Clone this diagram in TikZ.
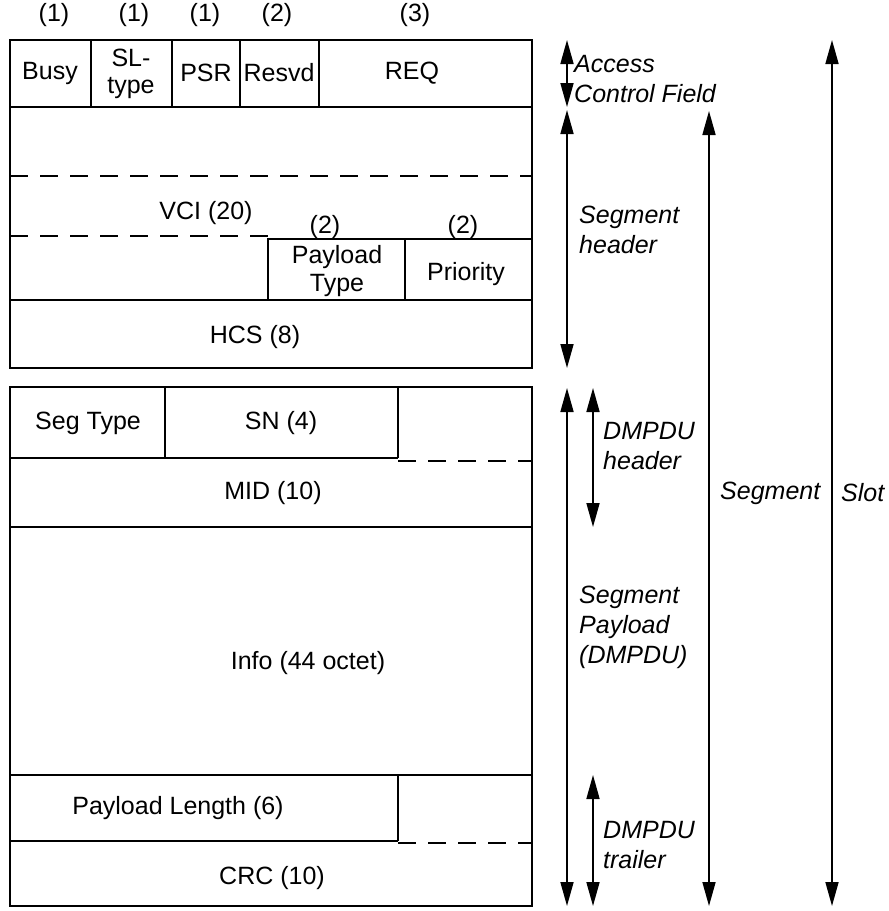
\documentclass[tikz,border=0pt]{standalone}
\usepackage{fontspec}
\setmainfont{Liberation Sans}
\usetikzlibrary{arrows.meta}
\begin{document}
\begin{tikzpicture}[x=1pt,y=-1pt,
  outer/.style={line width=2.8pt},
  field/.style={line width=1.7pt},
  dsh/.style={line width=1.7pt, dash pattern=on 18pt off 12pt},
  lbl/.style={font=\fontsize{25}{27.5}\selectfont, inner sep=0pt, align=center},
  ilbl/.style={font=\fontsize{25}{30}\selectfont\itshape, inner sep=0pt, align=left},
  dim/.style={line width=1.7pt, {Triangle[length=24pt,width=13pt]}-{Triangle[length=24pt,width=13pt]}},
]
\useasboundingbox (0,0) rectangle (889,911);

% ---------- top box (ACF + segment header)
\draw[outer] (10,40) rectangle (532,368);
\draw[field] (10,107) -- (532,107);
\draw[field] (91,40) -- (91,107);
\draw[field] (172,40) -- (172,107);
\draw[field] (240,40) -- (240,107);
\draw[field] (319,40) -- (319,107);
\draw[dsh] (10,176) -- (532,176);
\draw[dsh] (10,236) -- (268,236);
\draw[field] (268,300) -- (268,239) -- (532,239);
\draw[field] (405,239) -- (405,300);
\draw[field] (10,300) -- (532,300);

\node[lbl] (n1) at (54,15) {(1)};
\node[lbl] (n2) at (134,15) {(1)};
\node[lbl] (n3) at (205,15) {(1)};
\node[lbl] (n4) at (277,15) {(2)};
\node[lbl] (n5) at (415,15) {(3)};

\node[lbl] (busy) at (50,73) {Busy};
\node[lbl] (sl) at (131,74) {SL-\\type};
\node[lbl] (psr) at (206,73) {PSR};
\node[lbl] (resvd) at (279,73) {Resvd};
\node[lbl] (req) at (412,73) {REQ};

\node[lbl] (vci) at (206,213) {VCI (20)};
\node[lbl] (n6) at (325,227) {(2)};
\node[lbl] (n7) at (463,227) {(2)};
\node[lbl] (pt) at (337,271) {Payload\\Type};
\node[lbl] (prio) at (466,274) {Priority};
\node[lbl] (hcs) at (255,337) {HCS (8)};

% ---------- bottom box (segment payload)
\draw[outer] (10,387) rectangle (532,906);
\draw[field] (10,458) -- (398,458);
\draw[field] (165,387) -- (165,458);
\draw[field] (398,387) -- (398,458);
\draw[dsh] (398,461) -- (532,461);
\draw[field] (10,527) -- (532,527);
\draw[field] (10,775) -- (532,775);
\draw[field] (398,775) -- (398,841);
\draw[field] (10,841) -- (398,841);
\draw[dsh] (398,843) -- (532,843);

\node[lbl] (segtype) at (88,423) {Seg Type};
\node[lbl] (sn) at (281,423) {SN (4)};
\node[lbl] (mid) at (273,493) {MID (10)};
\node[lbl] (info) at (308,663) {Info (44 octet)};
\node[lbl] (plen) at (178,808) {Payload Length (6)};
\node[lbl] (crc) at (272,878) {CRC (10)};

% ---------- dimension arrows
\coordinate (acfT) at (567,40);
\coordinate (acfB) at (567,107);
\coordinate (shT) at (567,110);
\coordinate (shB) at (567,368);
\coordinate (spT) at (567,388);
\coordinate (spB) at (567,906);
\coordinate (dhT) at (593,388);
\coordinate (dhB) at (593,527);
\coordinate (dtT) at (593,775);
\coordinate (dtB) at (593,906);
\coordinate (sgT) at (709,111);
\coordinate (sgB) at (709,906);
\coordinate (slT) at (832,40);
\coordinate (slB) at (832,906);

\draw[dim] (acfT) -- (acfB);
\draw[dim] (shT) -- (shB);
\draw[dim] (spT) -- (spB);
\draw[dim] (dhT) -- (dhB);
\draw[dim] (dtT) -- (dtB);
\draw[dim] (sgT) -- (sgB);
\draw[dim] (slT) -- (slB);

\node[ilbl, anchor=west] (acf) at (574,79) {Access\\Control Field};
\node[ilbl, anchor=west] (sh) at (579,230) {Segment\\header};
\node[ilbl, anchor=west] (dh) at (603,446) {DMPDU\\header};
\node[ilbl, anchor=west] (sp) at (579,627) {Segment\\Payload\\(DMPDU)};
\node[ilbl, anchor=west] (dt) at (603,845) {DMPDU\\trailer};
\node[ilbl, anchor=west] (seg) at (720,493) {Segment};
\node[ilbl, anchor=west] (slot) at (841,493) {Slot};
\end{tikzpicture}
\end{document}
